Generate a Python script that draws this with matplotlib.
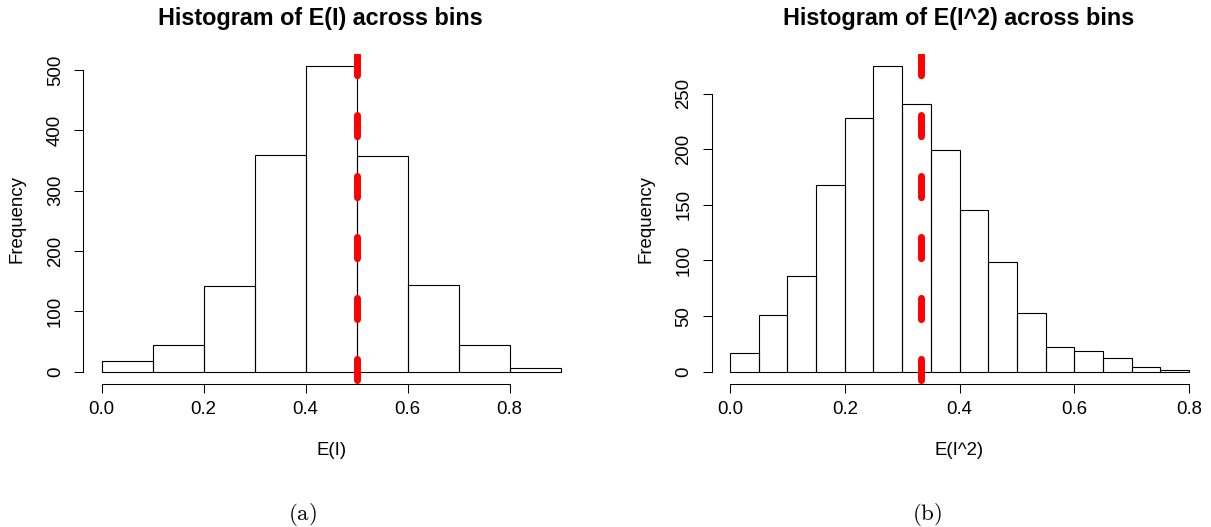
import numpy as np
import matplotlib
matplotlib.use("Agg")
import matplotlib.pyplot as plt

# ---------------- data ----------------
edges_left = [0.0, 0.1, 0.2, 0.3, 0.4, 0.5, 0.6, 0.7, 0.8, 0.9]
counts_left = [18, 45, 142, 359, 507, 358, 143, 44, 6]
ref_left = 0.5

edges_right = [0.00, 0.05, 0.10, 0.15, 0.20, 0.25, 0.30, 0.35, 0.40,
               0.45, 0.50, 0.55, 0.60, 0.65, 0.70, 0.75, 0.80]
counts_right = [17, 51, 86, 168, 228, 275, 241, 199, 145, 99, 53, 22, 19, 12, 4, 2]
ref_right = 1 / 3

xticks = [0.0, 0.2, 0.4, 0.6, 0.8]
xticklabels = ["0.0", "0.2", "0.4", "0.6", "0.8"]
yticks_left = [0, 100, 200, 300, 400, 500]
yticks_right = [0, 50, 100, 150, 200, 250]

titles = ["Histogram of E(I) across bins", "Histogram of E(I^2) across bins"]
xlabels = ["E(I)", "E(I^2)"]
ylabel = "Frequency"
captions = ["(a)", "(b)"]

# ---------------- style ----------------
W, H = 1211, 527
DPI = 100
plt.rcParams["font.family"] = ["Liberation Sans", "DejaVu Sans"]
plt.rcParams["mathtext.fontset"] = "cm"
plt.rcParams["lines.scale_dashes"] = False

fig = plt.figure(figsize=(W / DPI, H / DPI), dpi=DPI)
fig.patch.set_facecolor("white")

AX_FS = 13.4
TITLE_FS = 16.8
CAP_FS = 16.5

def fx(px):
    return px / W

def fy(py):
    return 1 - py / H

panels = [
    dict(rect_px=(83.3, 579.0), edges=edges_left, counts=counts_left,
         ref=ref_left, yticks=yticks_left, title_x=320, cap_x=302),
    dict(rect_px=(711.6, 1207.4), edges=edges_right, counts=counts_right,
         ref=ref_right, yticks=yticks_right, title_x=959, cap_x=927),
]
top_px, bot_px = 53.5, 384.0

for i, p in enumerate(panels):
    lpx, rpx = p["rect_px"]
    ax = fig.add_axes([fx(lpx), fy(bot_px), (rpx - lpx) / W, (bot_px - top_px) / H])
    edges = np.array(p["edges"])
    counts = np.array(p["counts"])
    ax.bar(edges[:-1], counts, width=np.diff(edges), align="edge",
           fill=False, edgecolor="black", linewidth=0.8)
    # R-style limits: 4% extension of data range
    xr = edges[-1] - edges[0]
    ax.set_xlim(edges[0] - 0.04 * xr, edges[-1] + 0.04 * xr)
    yr = counts.max()
    ax.set_ylim(-0.04 * yr, yr * 1.04)

    ax.plot([p["ref"], p["ref"]], [1, 0], transform=ax.get_xaxis_transform(),
            color="#FF0000", linewidth=5.0, dashes=(15.3, 28.6),
            dash_capstyle="round", solid_capstyle="round", clip_on=True, zorder=3)

    for s in ["top", "right"]:
        ax.spines[s].set_visible(False)
    ax.spines["left"].set_bounds(p["yticks"][0], p["yticks"][-1])
    ax.spines["bottom"].set_bounds(xticks[0], xticks[-1])
    for s in ["left", "bottom"]:
        ax.spines[s].set_linewidth(0.75)
        ax.spines[s].set_color("black")
    ax.set_xticks(xticks)
    ax.set_xticklabels(xticklabels)
    ax.set_yticks(p["yticks"])
    ax.set_yticklabels([str(v) for v in p["yticks"]], rotation=90, va="center")
    ax.tick_params(axis="both", length=6.5, width=0.75, colors="black",
                   labelsize=AX_FS)
    ax.tick_params(axis="x", pad=5.4)
    ax.tick_params(axis="y", pad=7.5)
    ax.patch.set_alpha(0)

    ax.set_xlabel(xlabels[i], fontsize=AX_FS, va="baseline")
    ax.xaxis.set_label_coords(fx((lpx + rpx) / 2), fy(455), transform=fig.transFigure)
    ax.set_ylabel(ylabel, fontsize=AX_FS, va="center")
    ax.yaxis.set_label_coords(fx(lpx - 66), fy((top_px + bot_px) / 2), transform=fig.transFigure)

    fig.text(fx(p["title_x"]), fy(25), titles[i], fontsize=TITLE_FS,
             fontweight="bold", ha="center", va="baseline")
    fig.text(fx(p["cap_x"]), fy(520), r"$\mathrm{" + captions[i] + "}$",
             fontsize=CAP_FS, ha="center", va="baseline")

fig.savefig("out.png", dpi=DPI)
